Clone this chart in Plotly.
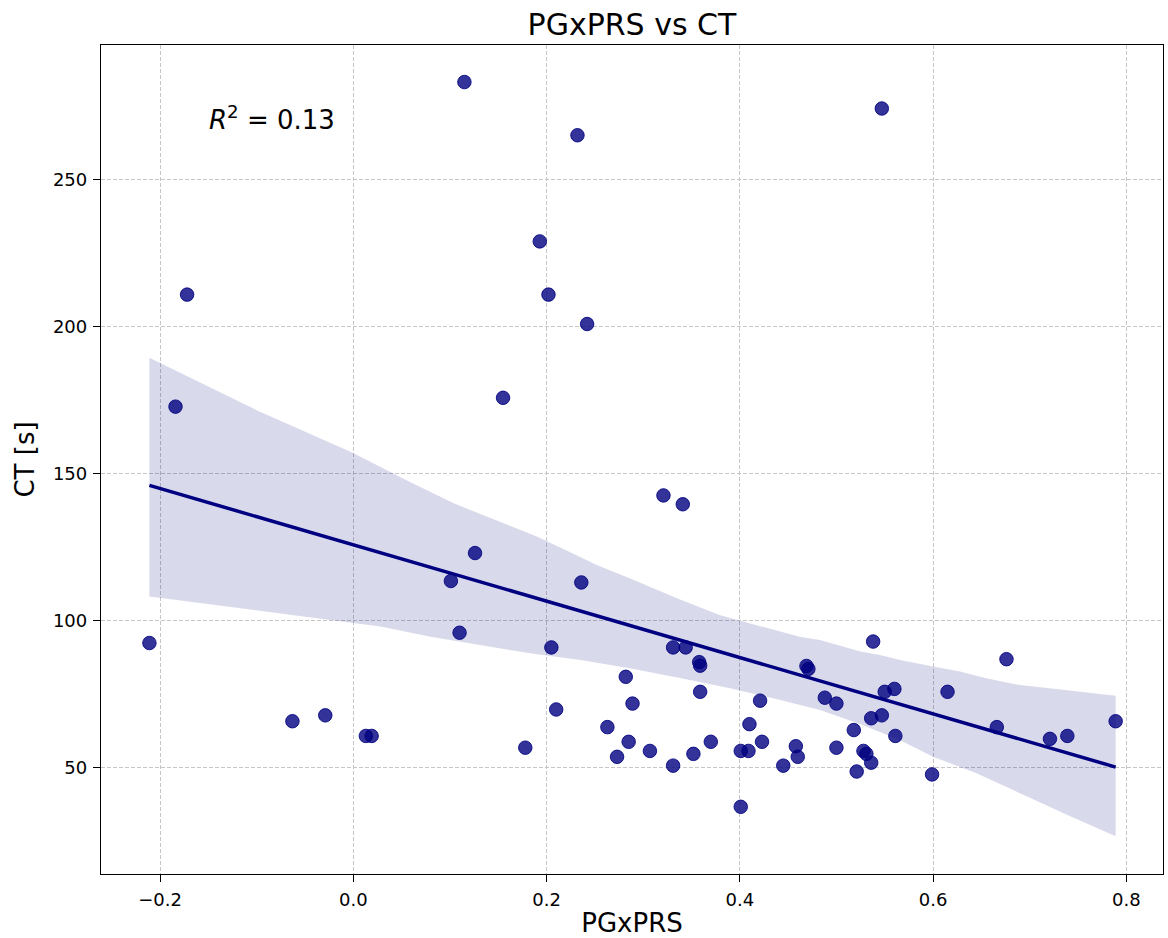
import numpy as np
import plotly.graph_objects as go

# PGxPRS score vs CT [s] for each subject
pgx_prs = [-0.211, -0.184, -0.172, -0.063, -0.029, 0.013, 0.019, 0.101, 0.110, 0.115,
           0.126, 0.155, 0.178, 0.193, 0.202, 0.205, 0.210, 0.232, 0.236, 0.242,
           0.263, 0.273, 0.282, 0.285, 0.289, 0.307, 0.321, 0.331, 0.331, 0.341,
           0.344, 0.352, 0.358, 0.359, 0.359, 0.370, 0.401, 0.401, 0.409, 0.410,
           0.421, 0.423, 0.445, 0.458, 0.460, 0.469, 0.471, 0.488, 0.500, 0.500,
           0.518, 0.521, 0.528, 0.531, 0.536, 0.536, 0.538, 0.547, 0.547, 0.550,
           0.560, 0.561, 0.599, 0.615, 0.666, 0.676, 0.721, 0.739, 0.789]
ct_seconds = [92.3, 172.7, 210.8, 65.7, 67.7, 60.7, 60.7, 113.4, 95.8, 283.1,
              122.9, 175.7, 56.7, 228.9, 210.8, 90.8, 69.7, 265.0, 112.9, 200.8,
              63.7, 53.6, 80.8, 58.7, 71.7, 55.6, 142.5, 50.6, 90.8, 139.5,
              90.8, 54.6, 85.8, 84.6, 75.7, 58.7, 36.6, 55.6, 55.6, 64.7,
              72.7, 58.7, 50.6, 57.2, 53.6, 84.5, 83.5, 73.7, 71.7, 56.7,
              62.7, 48.6, 55.6, 54.6, 51.6, 66.7, 92.8, 274.1, 67.7, 75.7,
              76.7, 60.7, 47.6, 75.7, 63.7, 86.8, 59.7, 60.7, 65.7]

# 95% confidence band of the regression (bootstrap), upper and lower edges
ci_upper_x = [-0.211, -0.100, 0.000, 0.055, 0.104, 0.155, 0.190, 0.224, 0.252, 0.286,
              0.335, 0.379, 0.404, 0.442, 0.462, 0.483, 0.525, 0.545, 0.566, 0.600,
              0.628, 0.655, 0.690, 0.739, 0.789]
ci_upper_y = [189.3, 171.5, 156.9, 147.7, 139.8, 133.0, 128.5, 123.3, 118.8, 114.3,
              107.5, 101.8, 99.5, 96.1, 94.4, 93.3, 89.4, 88.2, 86.5, 84.3,
              82.6, 80.3, 78.0, 76.2, 74.4]
ci_lower_x = [-0.211, -0.020, 0.028, 0.080, 0.131, 0.183, 0.235, 0.286, 0.338, 0.390,
              0.442, 0.483, 0.525, 0.566, 0.600, 0.645, 0.698, 0.739, 0.789]
ci_lower_y = [108.1, 100.0, 97.9, 94.4, 91.6, 88.8, 86.5, 83.7, 80.4, 76.9,
              72.9, 69.5, 64.7, 59.2, 53.6, 48.0, 40.0, 33.8, 26.6]

r_squared = 0.13

x_ticks = [-0.2, 0.0, 0.2, 0.4, 0.6, 0.8]
x_tick_labels = ["\u22120.2", "0.0", "0.2", "0.4", "0.6", "0.8"]
y_ticks = [50, 100, 150, 200, 250]

NAVY = "#000080"
FONT = "DejaVu Sans"

# Ordinary least-squares fit drawn across the observed PGxPRS range
slope, intercept = np.polyfit(pgx_prs, ct_seconds, 1)
fit_x = np.array([min(pgx_prs), max(pgx_prs)])
fit_y = intercept + slope * fit_x

fig = go.Figure()

fig.add_trace(go.Scatter(
    x=pgx_prs, y=ct_seconds, mode="markers",
    marker=dict(size=13.5, color="rgba(0,0,128,0.8)",
                line=dict(width=1, color="rgba(0,0,128,0.85)")),
    showlegend=False, hoverinfo="x+y",
))

fig.add_trace(go.Scatter(
    x=ci_upper_x + ci_lower_x[::-1],
    y=ci_upper_y + ci_lower_y[::-1],
    mode="lines", fill="toself", fillcolor="rgba(0,0,128,0.15)",
    line=dict(width=0, color="rgba(0,0,0,0)"),
    showlegend=False, hoverinfo="skip",
))

fig.add_trace(go.Scatter(
    x=fit_x, y=fit_y, mode="lines",
    line=dict(color=NAVY, width=3.5),
    showlegend=False, hoverinfo="skip",
))

axis_common = dict(
    showline=True, mirror=True, linecolor="black", linewidth=1.3,
    ticks="outside", ticklen=7, tickwidth=1.2, tickcolor="black",
    ticklabelstandoff=2,
    showgrid=True, gridcolor="#c6c6c6", gridwidth=1, griddash="4px,2px",
    zeroline=False,
    tickfont=dict(family=FONT, size=18, color="black"),
)

fig.update_layout(
    width=1168, height=938,
    margin=dict(l=101, r=5, t=45, b=64, pad=0),
    plot_bgcolor="white", paper_bgcolor="white",
    font=dict(family=FONT, color="black"),
    title=dict(text="PGxPRS vs CT", x=0.5, xref="paper", xanchor="center",
               y=1 - 24 / 938, yref="container", yanchor="middle",
               font=dict(family=FONT, size=30, color="black")),
    xaxis=dict(range=[-0.2611, 0.838], tickvals=x_ticks, ticktext=x_tick_labels,
               title=dict(text="PGxPRS", font=dict(family=FONT, size=26, color="black"),
                          standoff=9),
               automargin=False, **axis_common),
    yaxis=dict(range=[13.74, 295.7], tickvals=y_ticks,
               title=dict(text="CT [s]", font=dict(family=FONT, size=26, color="black"),
                          standoff=10),
               automargin=False, **axis_common),
    annotations=[dict(
        text=f"<i>R</i><sup>2</sup> = {r_squared:.2f}",
        xref="x domain", yref="y domain", x=0.1, y=0.889,
        xanchor="left", yanchor="bottom", showarrow=False,
        font=dict(family=FONT, size=26, color="black"),
    )],
)

fig.write_html("out.html")
